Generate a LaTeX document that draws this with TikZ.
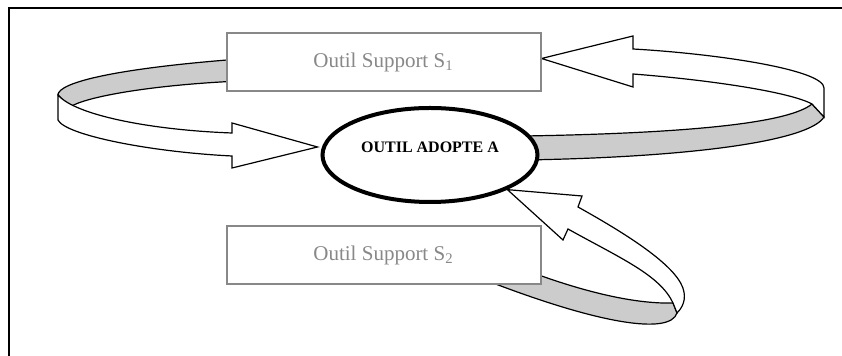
\documentclass[tikz,border=0pt]{standalone}
\usepackage{fontspec}
\setmainfont{Liberation Serif}
\usetikzlibrary{positioning,backgrounds,shapes.geometric}
\definecolor{ribbongrey}{RGB}{204,204,204}
\definecolor{boxgrey}{RGB}{136,136,136}

\begin{document}
\begin{tikzpicture}[x=0.5pt, y=-0.5pt,
    support/.style={draw=boxgrey, line width=1pt, fill=white, text=boxgrey, font=\fontsize{10.5}{12}\selectfont, minimum width=157pt, minimum height=29pt, inner sep=0pt},
    central/.style={draw, ellipse, line width=2pt, fill=white, minimum width=107.5pt, minimum height=47pt, inner sep=0pt},
    centraltext/.style={font=\fontsize{8}{9}\selectfont\bfseries, yshift=4pt},
    ribbon/.style={draw, line width=0.6pt, line join=miter},
    back/.style={ribbon, fill=ribbongrey},
    front/.style={ribbon, fill=white}
  ]
    \useasboundingbox (0,0) rectangle (842,356);
    \draw[line width=0.75pt] (9,356) -- (9,8) -- (842,8);

    \node[central, label={[centraltext]center:OUTIL ADOPTE A}] (adopte) at (430,155) {};
    \node[support, above=7pt of adopte, xshift=-23.25pt] (s1) {Outil Support S\textsubscript{1}};
    \node[support, below=10.5pt of adopte, xshift=-23.25pt] (s2) {Outil Support S\textsubscript{2}};

    \begin{scope}[on background layer]
      \draw[back] (240,59) .. controls (120,68) and (58,82) .. (58,95) -- (70,107) .. controls (85,97) and (150,85) .. (240,81) -- cycle;
      \draw[front] (58,95) -- (58,120) .. controls (65,135) and (150,152) .. (232,156) -- (232,168) -- ([xshift=-1.5pt, yshift=4pt]adopte.west) -- (232,123) -- (232,133) .. controls (150,130) and (75,115) .. (58,95) -- cycle;

      \draw[back] (525,136) .. controls (700,133) and (790,122) .. (812,104) -- (824,117) .. controls (810,140) and (700,157) .. (525,160) -- cycle;
      \draw[front] (633,49) .. controls (720,54) and (824,70) .. (824,88) -- (824,117) -- (812,104) .. controls (790,92) and (710,80) .. (633,74) -- (633,87) -- ([yshift=1.75pt]s1.east) -- (633,36) -- cycle;

      \draw[back] (520,268) .. controls (590,295) and (640,304) .. (673,303) -- (677,313) .. controls (670,335) and (600,325) .. (480,278) -- cycle;
      \draw[front] (adopte.south east) -- (582,196) -- (578,207) .. controls (630,236) and (680,268) .. (684,292) .. controls (686,303) and (680,310) .. (677,313) -- (673,303) .. controls (660,275) and (620,258) .. (568,229) -- (563,240) -- cycle;
    \end{scope}
\end{tikzpicture}
\end{document}
